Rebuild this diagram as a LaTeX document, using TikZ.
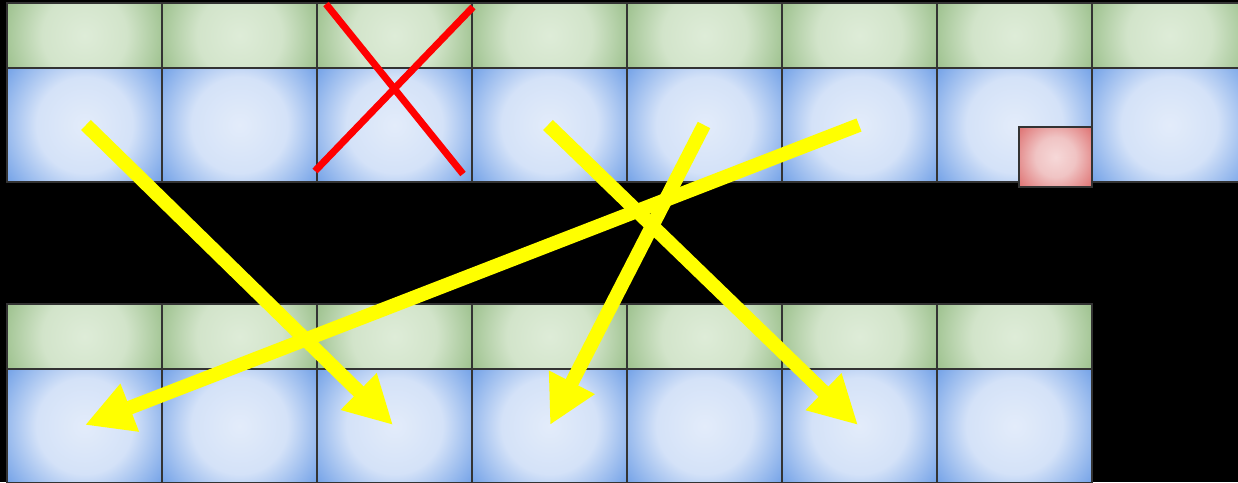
\documentclass[tikz,border=0pt]{standalone}
\usetikzlibrary{arrows.meta}
\definecolor{gin}{HTML}{DEECD8}
\definecolor{gmid}{HTML}{D2E4CA}
\definecolor{gout}{HTML}{98BE88}
\definecolor{bin}{HTML}{E3ECFA}
\definecolor{bmid}{HTML}{D4E2F8}
\definecolor{bout}{HTML}{6C9DE6}
\definecolor{rin}{HTML}{F6D8D8}
\definecolor{rmid}{HTML}{F0C4C4}
\definecolor{rout}{HTML}{DC6868}
\definecolor{cellline}{HTML}{333333}
\definecolor{yel}{RGB}{255,255,0}
\definecolor{redx}{RGB}{255,0,0}
\pgfdeclareradialshading{greensh}{\pgfpointorigin}{color(0bp)=(gin); color(12bp)=(gmid); color(25bp)=(gout); color(50bp)=(gout)}
\pgfdeclareradialshading{bluesh}{\pgfpointorigin}{color(0bp)=(bin); color(12bp)=(bmid); color(25bp)=(bout); color(50bp)=(bout)}
\pgfdeclareradialshading{redsh}{\pgfpointorigin}{color(0bp)=(rin); color(10bp)=(rmid); color(25bp)=(rout); color(50bp)=(rout)}
\tikzset{
  cell/.style={draw=cellline, line width=2pt, anchor=north west, inner sep=0pt, outer sep=0pt},
  gcell/.style={cell, minimum width=155pt, minimum height=65pt,
    path picture={\shade[shading=greensh] (path picture bounding box.center) circle (88pt);}},
  bcell/.style={cell, minimum width=155pt, minimum height=114pt,
    path picture={\shade[shading=bluesh] (path picture bounding box.center) circle (100pt);}},
  rcell/.style={cell, minimum width=73pt, minimum height=60pt,
    path picture={\shade[shading=redsh] (path picture bounding box.center) circle (50pt);}},
  yarrow/.style={draw=yel, line width=14pt, -{Triangle[length=48pt,width=48pt]}},
  rline/.style={draw=redx, line width=7pt}
}
\begin{document}
\begin{tikzpicture}[x=1pt,y=-1pt]
\useasboundingbox (0,0) rectangle (1238,482);
\fill[black] (0,0) rectangle (1238,482);
\clip (0,0) rectangle (1238,482);
% top row
\foreach \i in {0,...,7}{
  \node[gcell] (tg\i) at ({7+155*\i},3) {};
  \node[bcell] (tb\i) at ({7+155*\i},68) {};
}
% bottom row
\foreach \i in {0,...,6}{
  \node[gcell] (bg\i) at ({7+155*\i},304) {};
  \node[bcell] (bb\i) at ({7+155*\i},369) {};
}
% red box
\node[rcell] (rb) at (1019,127) {};
% red cross
\coordinate (x1s) at (326,4);
\coordinate (x1e) at (463,174);
\coordinate (x2s) at (473,7);
\coordinate (x2e) at (315,171);
\draw[rline] (x1s) -- (x1e);
\draw[rline] (x2s) -- (x2e);
% yellow arrows
\coordinate (a1s) at (86,125);
\coordinate (a1e) at (393,425);
\coordinate (a2s) at (859,125);
\coordinate (a2e) at (85,425);
\coordinate (a3s) at (704,125);
\coordinate (a3e) at (550,425);
\coordinate (a4s) at (548,125);
\coordinate (a4e) at (858,425);
\draw[yarrow] (a1s) -- (a1e);
\draw[yarrow] (a2s) -- (a2e);
\draw[yarrow] (a3s) -- (a3e);
\draw[yarrow] (a4s) -- (a4e);
\end{tikzpicture}
\end{document}
